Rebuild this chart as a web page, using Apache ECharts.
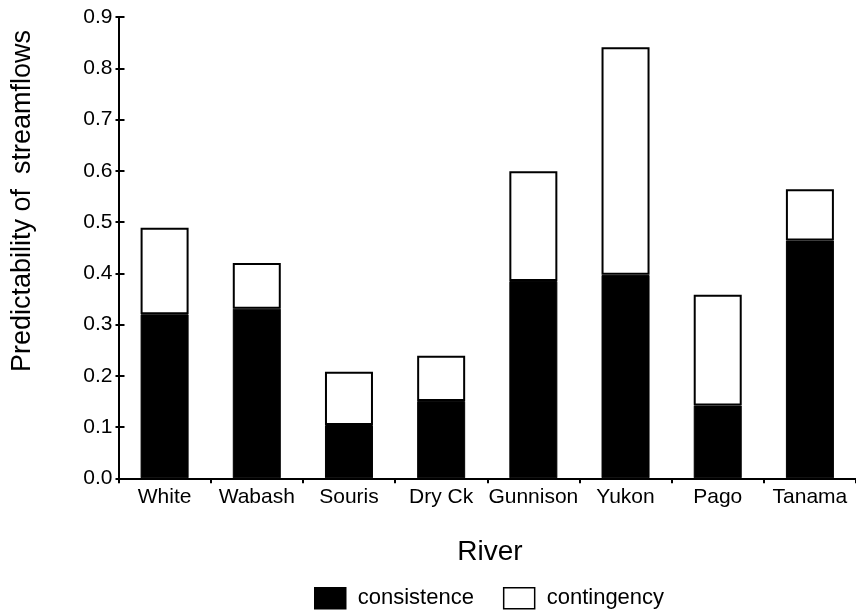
<!DOCTYPE html>
<html>
<head>
<meta charset="utf-8">
<script src="https://cdn.jsdelivr.net/npm/echarts@6/dist/echarts.min.js"></script>
<style>
html,body{margin:0;padding:0;background:#fff;}
#main{width:856px;height:614px;}
</style>
</head>
<body>
<div id="main"></div>
<script>
var categories = ['White','Wabash','Souris','Dry Ck','Gunnison','Yukon','Pago','Tanama'];
var consistence = [0.320,0.331,0.104,0.151,0.385,0.397,0.142,0.464];
var contingency = [0.169,0.089,0.104,0.088,0.214,0.444,0.216,0.100];
var yTicks = [0.0,0.1,0.2,0.3,0.4,0.5,0.6,0.7,0.8,0.9];

var FONT = 'Liberation Sans, Arial, sans-serif';
var chart = echarts.init(document.getElementById('main'));
chart.setOption({
  backgroundColor:'#fff',
  animation:false,
  grid:{left:118.5, right:-8, top:17, bottom:135.7, containLabel:false},
  legend:{
    left:314, top:587, padding:0,
    itemWidth:31, itemHeight:21, itemGap:29,
    textStyle:{fontFamily:FONT, fontSize:22, color:'#000', padding:[0,0,0,7]},
    data:[
      {name:'consistence', icon:'rect', itemStyle:{color:'#000', borderColor:'#000', borderWidth:1.5}},
      {name:'contingency', icon:'rect', itemStyle:{color:'#fff', borderColor:'#000', borderWidth:1.5}}
    ]
  },
  xAxis:{
    type:'category', data:categories,
    axisLine:{lineStyle:{color:'#000', width:2}},
    axisTick:{show:true, inside:false, length:5, lineStyle:{color:'#000', width:2}},
    axisLabel:{fontFamily:FONT, fontSize:21, color:'#000', margin:8, interval:0}
  },
  yAxis:[{
    type:'value', min:yTicks[0], max:yTicks[yTicks.length-1], interval:0.1,
    axisLine:{show:true, lineStyle:{color:'#000', width:2}},
    axisTick:{show:true, inside:true, length:6, lineStyle:{color:'#000', width:2}},
    axisLabel:{fontFamily:FONT, fontSize:21, color:'#000', margin:6, formatter:function(v){return v.toFixed(1);}},
    splitLine:{show:false}
  },{
    type:'value', min:yTicks[0], max:yTicks[yTicks.length-1], interval:0.1, position:'left',
    axisLine:{show:false},
    axisTick:{show:true, inside:false, length:3, lineStyle:{color:'#000', width:2}},
    axisLabel:{show:false},
    splitLine:{show:false}
  }],
  graphic:[
    {type:'text', x:23, y:201, rotation:Math.PI/2,
     style:{text:'Predictability of  streamflows', font:'27px '+FONT, fill:'#000', textAlign:'center', textVerticalAlign:'middle'}},
    {type:'text', x:490, y:552,
     style:{text:'River', font:'28px '+FONT, fill:'#000', textAlign:'center', textVerticalAlign:'middle'}}
  ],
  series:[
    {name:'consistence', type:'bar', stack:'s', data:consistence, barWidth:48, yAxisIndex:0,
     itemStyle:{color:'#000', borderColor:'#000', borderWidth:1}},
    {name:'contingency', type:'bar', stack:'s', data:contingency, barWidth:48, yAxisIndex:0,
     itemStyle:{color:'#fff', borderColor:'#000', borderWidth:2}}
  ]
});
</script>
</body>
</html>
